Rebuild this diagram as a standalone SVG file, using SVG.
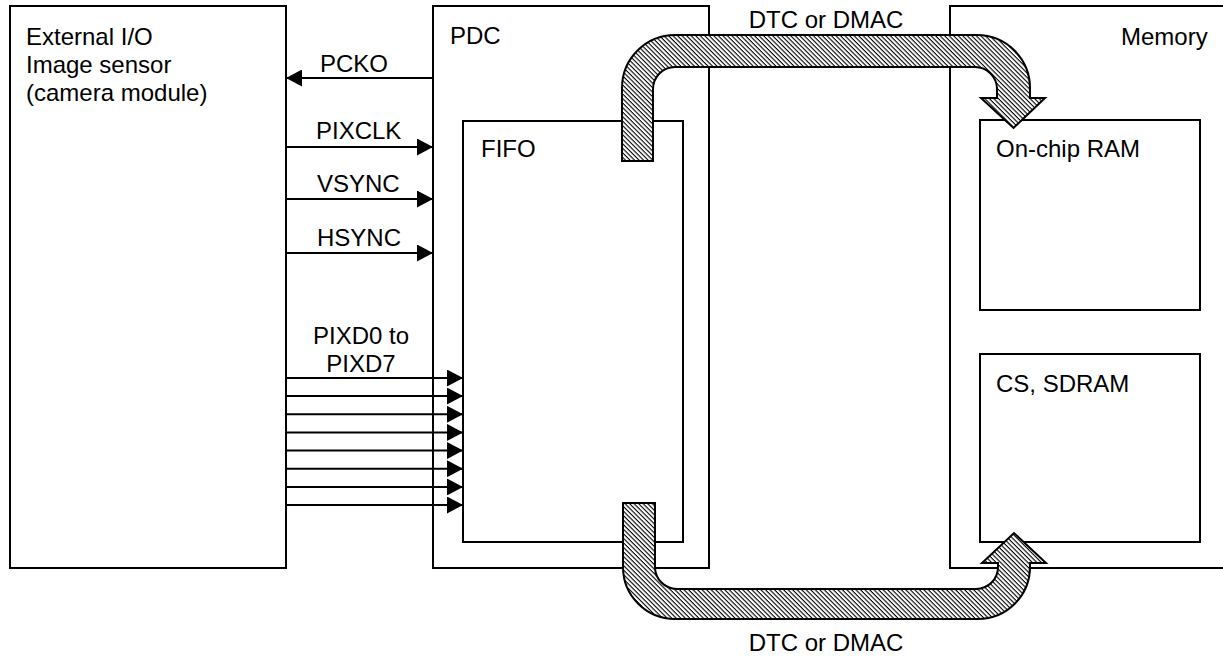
<svg xmlns="http://www.w3.org/2000/svg" width="1223" height="656" viewBox="0 0 1223 656">
<style>
.box{fill:#fff;stroke:#000;stroke-width:2}
.open{fill:none;stroke:#000;stroke-width:2}
.t{font-family:"Liberation Sans",Arial,sans-serif;font-size:24px;fill:#000}
.sig{stroke:#000;stroke-width:2;fill:none}
.bus{fill:url(#hatch);stroke:#000;stroke-width:2;stroke-linejoin:miter}
</style>
<defs>
<marker id="ah" markerUnits="userSpaceOnUse" markerWidth="16" markerHeight="17" refX="16" refY="8.5" orient="auto" viewBox="0 0 16 17">
<path d="M0,0 L16,8.5 L0,17 Z" fill="#000"/>
</marker>
<pattern id="hatch" patternUnits="userSpaceOnUse" width="3.2" height="3.2" patternTransform="rotate(45)">
<rect width="3.2" height="3.2" fill="#fff"/>
<rect y="0" width="3.2" height="1.1" fill="#000"/>
</pattern>
</defs>
<rect width="1223" height="656" fill="#fff"/>
<g id="external-io">
<rect class="box" x="10" y="6" width="276" height="562"/>
<text class="t" x="26" y="45">External I/O</text>
<text class="t" x="26" y="73">Image sensor</text>
<text class="t" x="26" y="101">(camera module)</text>
</g>
<g id="pdc">
<rect class="box" x="433" y="6" width="276" height="562"/>
<text class="t" x="450" y="44">PDC</text>
</g>
<g id="fifo">
<rect class="box" x="463" y="121" width="220" height="421"/>
<text class="t" x="481" y="157">FIFO</text>
</g>
<g id="memory">
<path class="open" d="M1224,6 H950 V568 H1224"/>
<text class="t" x="1121" y="45">Memory</text>
</g>
<g id="onchip-ram">
<rect class="box" x="980" y="120" width="220" height="190"/>
<text class="t" x="996" y="157">On-chip RAM</text>
</g>
<g id="cs-sdram">
<rect class="box" x="980" y="354" width="220" height="188"/>
<text class="t" x="996" y="392">CS, SDRAM</text>
</g>
<g id="connectors">
<line class="sig" x1="433" y1="78" x2="286" y2="78" marker-end="url(#ah)"/>
<line class="sig" x1="286" y1="147" x2="433" y2="147" marker-end="url(#ah)"/>
<line class="sig" x1="286" y1="199" x2="433" y2="199" marker-end="url(#ah)"/>
<line class="sig" x1="286" y1="253" x2="433" y2="253" marker-end="url(#ah)"/>
<line class="sig" x1="286" y1="378" x2="463" y2="378" marker-end="url(#ah)"/>
<line class="sig" x1="286" y1="396.1" x2="463" y2="396.1" marker-end="url(#ah)"/>
<line class="sig" x1="286" y1="414.3" x2="463" y2="414.3" marker-end="url(#ah)"/>
<line class="sig" x1="286" y1="432.4" x2="463" y2="432.4" marker-end="url(#ah)"/>
<line class="sig" x1="286" y1="450.6" x2="463" y2="450.6" marker-end="url(#ah)"/>
<line class="sig" x1="286" y1="468.7" x2="463" y2="468.7" marker-end="url(#ah)"/>
<line class="sig" x1="286" y1="486.9" x2="463" y2="486.9" marker-end="url(#ah)"/>
<line class="sig" x1="286" y1="505" x2="463" y2="505" marker-end="url(#ah)"/>
<text class="t" x="320" y="72">PCKO</text>
<text class="t" x="316" y="139">PIXCLK</text>
<text class="t" x="317" y="192">VSYNC</text>
<text class="t" x="317" y="246">HSYNC</text>
<text class="t" x="361" y="344" text-anchor="middle">PIXD0 to</text>
<text class="t" x="361" y="372" text-anchor="middle">PIXD7</text>
<path class="bus" d="M622,161 L622,88 A53,53 0 0 1 675,35 L977,35 A53,53 0 0 1 1030,88 L1030,98 L1045,98 L1013.5,128 L981,98 L997,98 L997,89 A22,22 0 0 0 975,67 L675,67 A22,22 0 0 0 653,89 L653,161 Z"/>
<path class="bus" d="M623,503 L655,503 L655,567 A22,22 0 0 0 677,589 L976,589 A22,22 0 0 0 998,567 L998,563 L982,563 L1014,533 L1046,563 L1030,563 L1030,567 A52,52 0 0 1 978,619 L675,619 A52,52 0 0 1 623,567 Z"/>
<text class="t" x="826" y="28" text-anchor="middle">DTC or DMAC</text>
<text class="t" x="826" y="651" text-anchor="middle">DTC or DMAC</text>
</g>
</svg>
